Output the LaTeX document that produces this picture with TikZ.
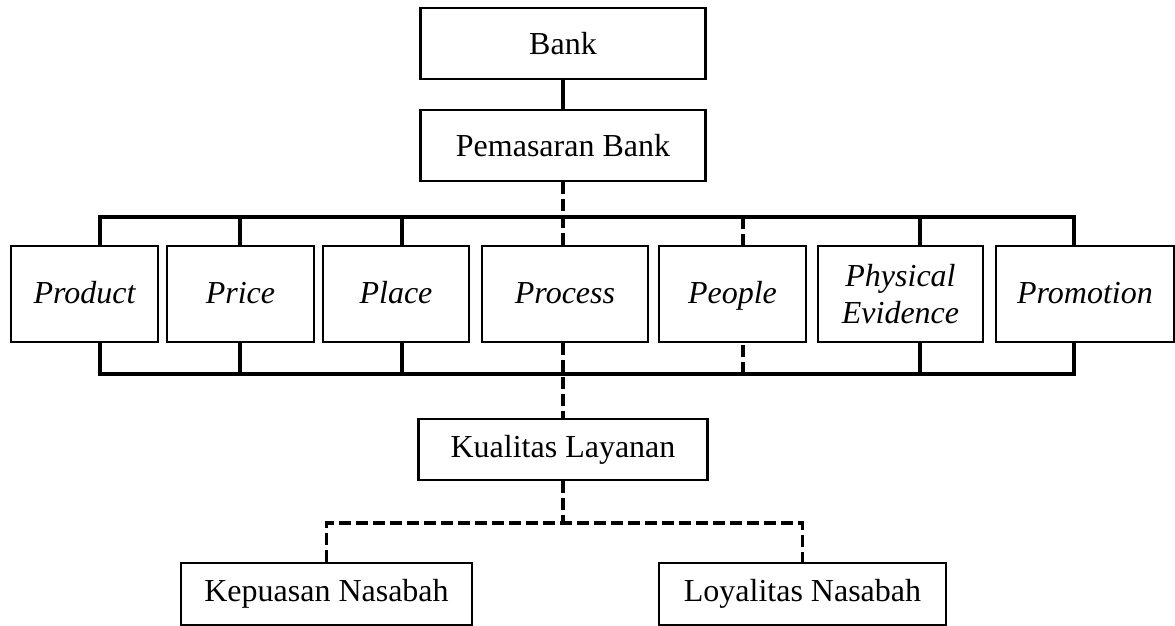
\documentclass[tikz,border=0pt]{standalone}
\usepackage{fontspec}
\setmainfont{Liberation Serif}
\usepackage{tikz}
\usetikzlibrary{calc}
\definecolor{ink}{HTML}{000000}
\definecolor{paper}{HTML}{FFFFFF}
\tikzset{
  box/.style={draw=ink, line width=1.3pt, fill=paper, inner sep=0pt, align=center, font=\fontsize{16}{18.5}\selectfont},
  rowbox/.style={box, minimum height=48pt, font=\fontsize{16}{18.5}\selectfont\itshape},
  oneline/.style={text height=12.5pt, text depth=2.5pt},
  link/.style={draw=ink, line width=1.8pt},
  bus/.style={draw=ink, line width=2pt, line cap=rect},
  dsh/.style={dash pattern=on 6pt off 2.5pt},
}
\begin{document}
\begin{tikzpicture}[x=0.5pt,y=-0.5pt]
  \useasboundingbox (0,0) rectangle (1175,626);
  % top of the tree
  \node[box, minimum width=142.5pt, minimum height=35.5pt] (bank) at (563,43.5) {Bank};
  \node[box, minimum width=142.5pt, minimum height=35.5pt] (pem) at (563,145.5) {Pemasaran Bank};
  % the seven P
  \node[rowbox, oneline, minimum width=73.5pt] (prod) at (84.5,294) {Product};
  \node[rowbox, oneline, minimum width=73.5pt] (price) at (240.5,294) {Price};
  \node[rowbox, oneline, minimum width=73pt] (place) at (396,294) {Place};
  \node[rowbox, oneline, minimum width=83pt] (proc) at (565,294) {Process};
  \node[rowbox, oneline, minimum width=73.5pt] (peop) at (732.5,294) {People};
  \node[rowbox, minimum width=82.5pt] (phys) at (900.5,294) {Physical\\Evidence};
  \node[rowbox, oneline, minimum width=89pt] (promo) at (1085,294) {Promotion};
  % results
  \node[box, minimum width=144.5pt, minimum height=30.5pt] (kual) at (563,449.5) {Kualitas Layanan};
  \node[box, minimum width=145.5pt, minimum height=31pt] (kep) at (326.5,594) {Kepuasan Nasabah};
  \node[box, minimum width=143.5pt, minimum height=31pt] (loy) at (802.5,594) {Loyalitas Nasabah};

  \coordinate (tl) at (100,217); \coordinate (tr) at (1074,217);
  \coordinate (bl) at (100,374); \coordinate (br) at (1074,374);
  \coordinate (split) at (563,523);

  \draw[bus] (tl) -- (tr);
  \draw[bus] (bl) -- (br);
  \draw[link] (bank.south) -- (pem.north);
  \draw[link,dsh] (pem.south) -- (pem.south |- proc.north);
  \foreach \nm/\xx/\ls in {prod/100/solid, price/240/solid, place/402/solid, peop/743/dsh, phys/920/solid, promo/1074/solid} {
    \draw[link,\ls] (\xx,217) -- (\xx,217 |- \nm.north);
    \draw[link,\ls] (\xx,374) -- (\xx,374 |- \nm.south);
  }
  \draw[link,dsh] (kual.north |- proc.south) -- (kual.north);
  \draw[link,dsh] (kual.south) -- (split);
  \draw[link,dsh] (kep.north) |- (split) -| (loy.north);
\end{tikzpicture}
\end{document}
